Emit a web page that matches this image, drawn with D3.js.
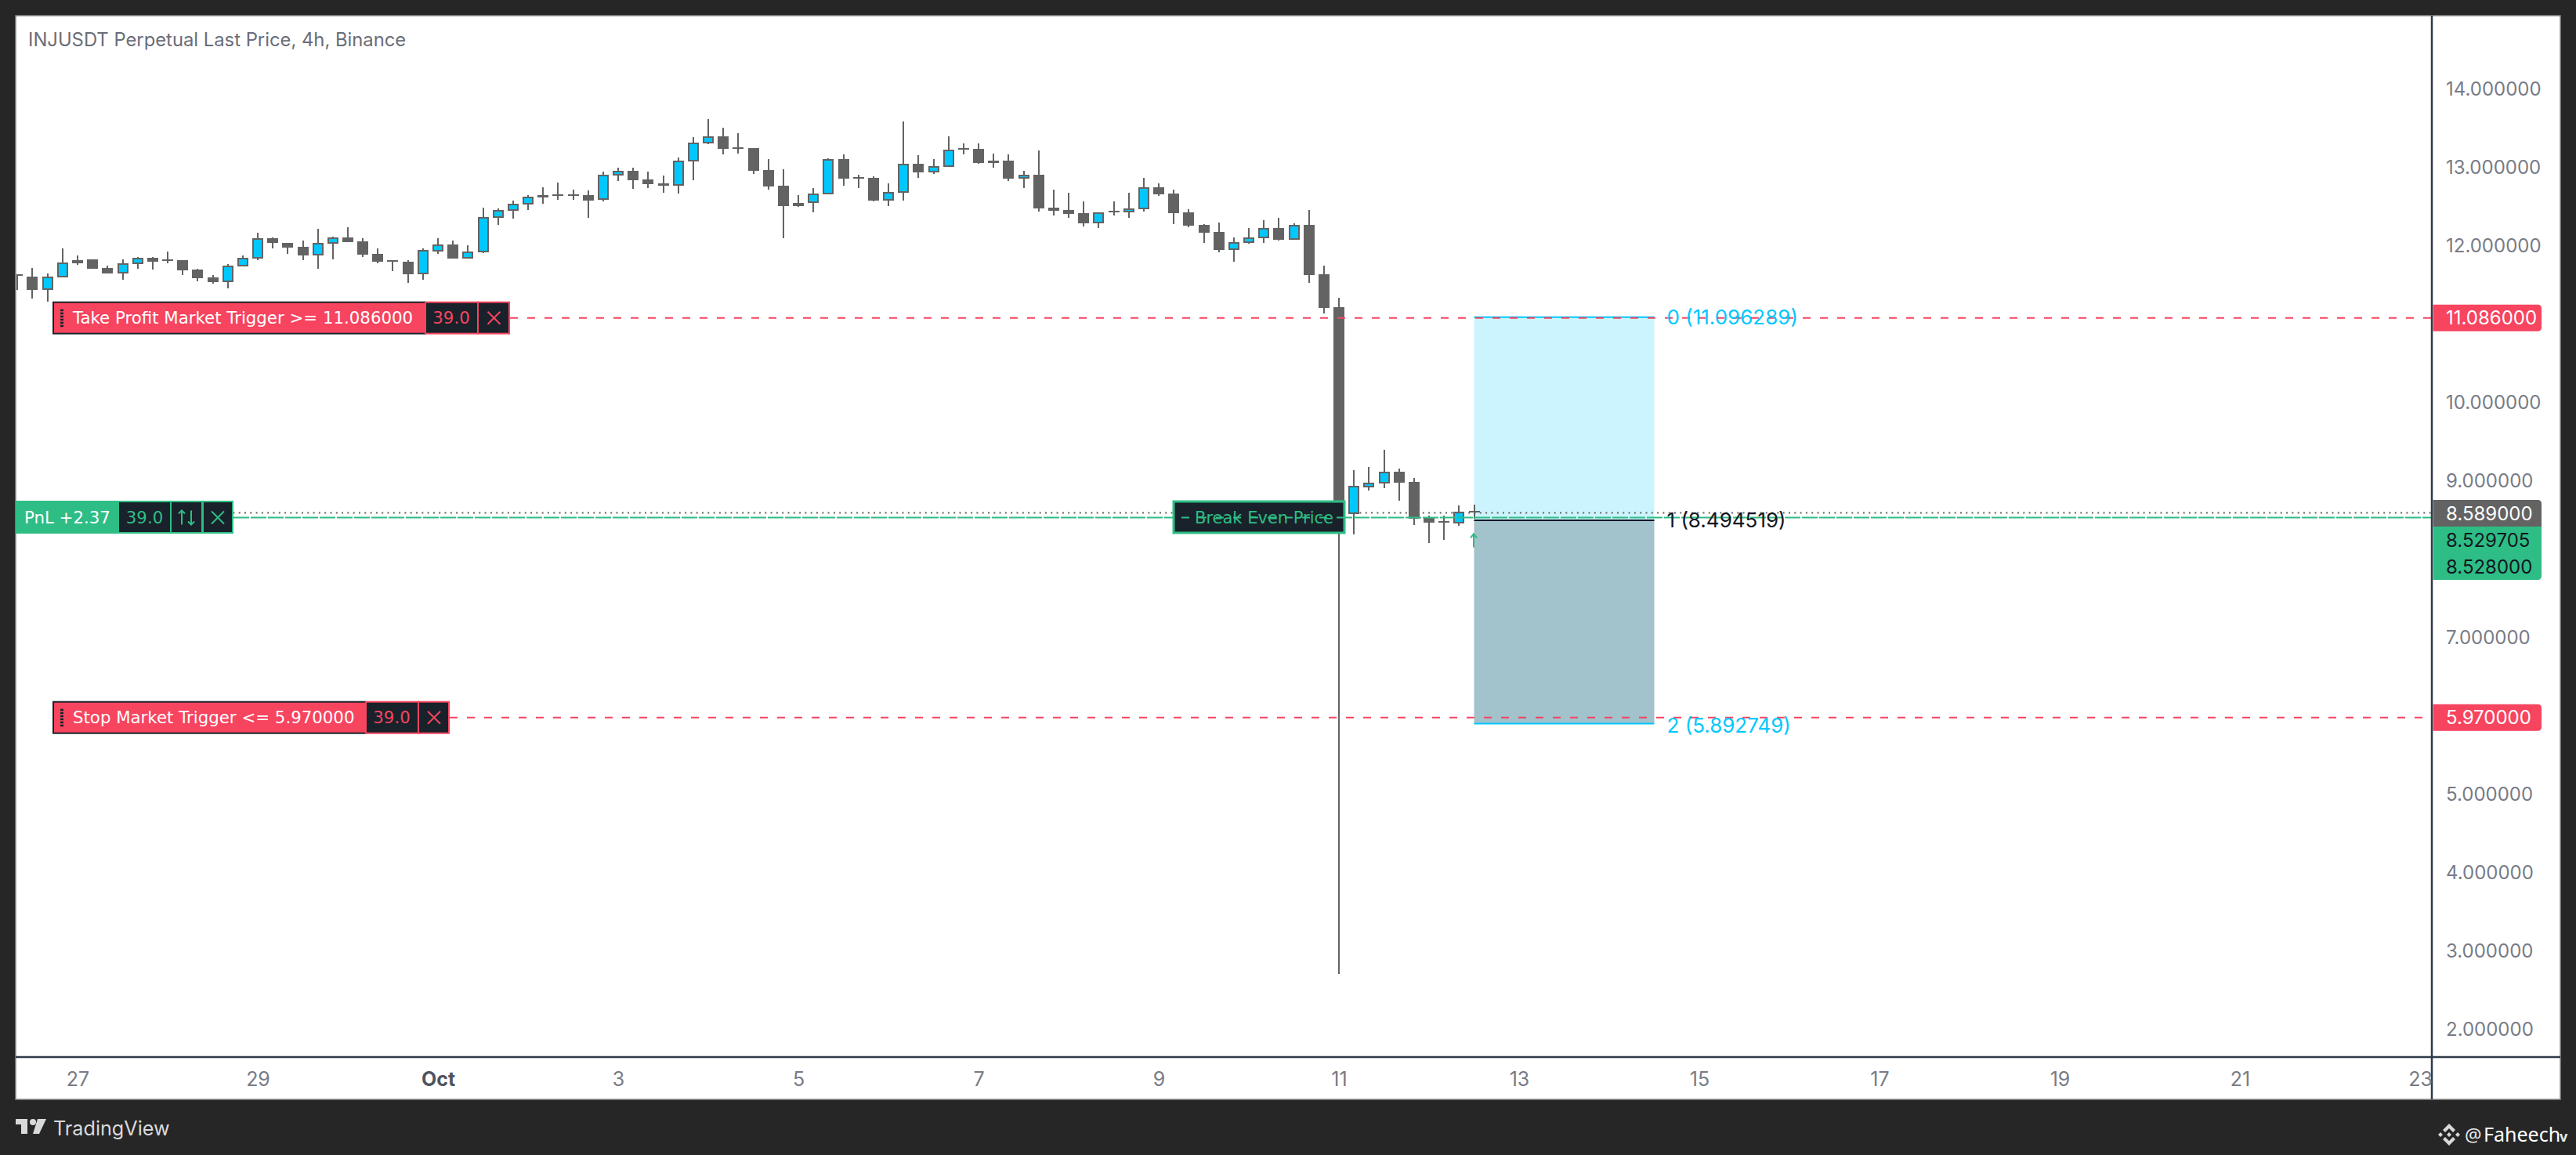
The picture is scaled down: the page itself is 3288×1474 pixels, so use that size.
<!DOCTYPE html>
<html>
<head>
<meta charset="utf-8">
<script src="https://cdn.jsdelivr.net/npm/d3@7"></script>
<style>
  html, body { margin: 0; padding: 0; background: #262626; }
  svg { display: block; }
</style>
</head>
<body>
<div id="chart"></div>
<script>
// 4h candles, first one opens Sep 26 08:00
const firstCandle = "2025-09-26T08:00:00Z";
const opens = [11.642,11.619,11.448,11.609,11.830,11.840,11.729,11.659,11.780,11.860,11.840,11.830,11.709,11.609,11.548,11.749,11.850,12.111,12.051,11.991,
  11.890,12.031,12.121,12.071,11.910,11.830,11.810,11.649,11.940,12.021,11.850,11.930,12.363,12.453,12.533,12.654,12.664,12.664,12.654,12.594,
  12.905,12.966,12.855,12.805,12.775,13.086,13.317,13.408,13.267,13.257,12.976,12.775,12.553,12.553,12.664,13.116,12.885,12.875,12.584,12.684,
  13.056,12.945,13.016,13.257,13.247,13.096,13.096,12.865,12.915,12.493,12.463,12.423,12.292,12.453,12.433,12.473,12.754,12.674,12.433,12.272,
  12.182,11.951,12.051,12.111,12.232,12.091,12.272,11.649,11.227,8.573,8.915,8.965,9.116,8.985,8.533,8.483,8.453,8.613];
const highs = [11.642,11.729,11.659,11.971,11.890,11.840,11.759,11.840,11.870,11.870,11.940,11.830,11.719,11.639,11.780,11.890,12.172,12.121,12.051,12.081,
  12.222,12.131,12.242,12.111,11.971,11.830,11.830,11.971,12.111,12.081,12.011,12.493,12.483,12.584,12.654,12.754,12.815,12.724,12.714,12.955,
  13.006,13.006,12.955,12.905,13.136,13.398,13.629,13.518,13.448,13.257,13.116,12.986,12.654,12.744,13.126,13.177,12.915,12.895,12.805,13.599,
  13.167,13.116,13.408,13.317,13.317,13.187,13.177,12.966,13.227,12.724,12.684,12.574,12.433,12.574,12.684,12.875,12.805,12.724,12.473,12.282,
  12.302,12.121,12.232,12.332,12.363,12.292,12.463,11.759,11.347,9.136,9.176,9.397,9.156,9.035,8.553,8.553,8.684,8.694];
const lows = [11.448,11.337,11.297,11.609,11.770,11.719,11.659,11.579,11.719,11.709,11.790,11.639,11.558,11.528,11.468,11.749,11.830,11.971,11.910,11.830,
  11.719,11.840,12.061,11.870,11.790,11.689,11.538,11.579,11.910,11.850,11.850,11.920,12.272,12.352,12.463,12.543,12.594,12.594,12.363,12.574,
  12.835,12.734,12.744,12.684,12.674,12.845,13.307,13.177,13.187,12.925,12.724,12.111,12.503,12.433,12.664,12.775,12.744,12.574,12.513,12.584,
  12.875,12.925,13.016,13.177,13.056,13.006,12.835,12.744,12.443,12.393,12.363,12.252,12.232,12.393,12.363,12.443,12.644,12.282,12.242,12.051,
  11.930,11.810,12.031,12.051,12.081,12.091,11.538,11.146,2.69,8.312,8.875,8.905,8.744,8.432,8.201,8.241,8.422,8.513];
const closes = [11.622,11.448,11.619,11.800,11.790,11.719,11.659,11.790,11.860,11.810,11.820,11.699,11.599,11.548,11.759,11.860,12.111,12.041,11.981,11.890,
  12.041,12.121,12.061,11.900,11.810,11.810,11.649,11.951,12.021,11.850,11.940,12.373,12.463,12.543,12.634,12.624,12.644,12.644,12.584,12.915,
  12.966,12.845,12.795,12.775,13.096,13.327,13.408,13.247,13.247,12.966,12.765,12.513,12.513,12.674,13.116,12.865,12.865,12.584,12.694,13.056,
  12.945,13.026,13.237,13.237,13.066,13.066,12.865,12.915,12.483,12.453,12.413,12.292,12.433,12.433,12.483,12.754,12.664,12.423,12.262,12.172,
  11.951,12.061,12.121,12.232,12.091,12.272,11.639,11.217,8.57,8.935,8.975,9.116,8.975,8.513,8.463,8.463,8.603,8.593];

const priceTicks = [14,13,12,10,9,7,5,4,3,2];
const dateTicks = ["2025-09-27","2025-09-29","2025-10-01","2025-10-03","2025-10-05","2025-10-07","2025-10-09","2025-10-11","2025-10-13","2025-10-15","2025-10-17","2025-10-19","2025-10-21","2025-10-23"];
const dateLabels = ["27","29","Oct","3","5","7","9","11","13","15","17","19","21","23"];

const takeProfit = 11.086;
const stopLoss = 5.97;
const lastPrice = 8.589;
const breakEven = 8.529705;
const markPrice = 8.528;
const fibLevels = [11.096289, 8.494519, 5.892749];
const fibStart = "2025-10-12T12:00:00Z";
const fibEnd = "2025-10-14T12:00:00Z";

const width = 3288, height = 1474;
const frame = { left: 20, top: 20, right: 3268, bottom: 1403 };
const paneRight = 3104, paneBottom = 1349;

const GREY = "#636363", CYAN = "#00c8ff", RED = "#f7445f", GREEN = "#2ebd85", DARK = "#19222a", AXIS = "#2f3a4a", LABEL = "#787b86";
const UI_FONT = "Inter, sans-serif", ORDER_FONT = "'DejaVu Sans', sans-serif";

const x = d3.scaleUtc().domain([new Date("2025-09-27T00:00:00Z"), new Date("2025-10-23T00:00:00Z")]).range([99, 3089]);
const y = d3.scaleLinear().domain([takeProfit, stopLoss]).range([405.7, 915.7]);
// tick labels sit on a slightly different grid than the order lines
const yTicks = d3.scaleLinear().domain([14, 2]).range([113, 1313]);

const candles = opens.map((o, i) => ({
  t: d3.utcHour.offset(new Date(firstCandle), i * 4),
  o, h: highs[i], l: lows[i], c: closes[i], up: closes[i] >= o
}));

const svg = d3.select("#chart").append("svg").attr("width", width).attr("height", height).attr("viewBox", `0 0 ${width} ${height}`);

svg.append("rect").attr("width", width).attr("height", height).attr("fill", "#262626");
svg.append("rect").attr("x", frame.left).attr("y", frame.top)
  .attr("width", frame.right - frame.left).attr("height", frame.bottom - frame.top)
  .attr("fill", "#fff").attr("stroke", "#8a8a8a").attr("stroke-width", 1.5);

svg.append("defs").append("clipPath").attr("id", "pane").append("rect")
  .attr("x", frame.left + 1).attr("y", frame.top).attr("width", paneRight - frame.left - 1).attr("height", paneBottom - frame.top);

const pane = svg.append("g").attr("clip-path", "url(#pane)");

// fib / position box
const fibX0 = x(new Date(fibStart)), fibX1 = x(new Date(fibEnd));
pane.append("rect").attr("x", fibX0).attr("width", fibX1 - fibX0).attr("y", y(fibLevels[0])).attr("height", y(fibLevels[1]) - y(fibLevels[0])).attr("fill", "#ccf4ff");
pane.append("rect").attr("x", fibX0).attr("width", fibX1 - fibX0).attr("y", y(fibLevels[1])).attr("height", y(fibLevels[2]) - y(fibLevels[1])).attr("fill", "#a2c2cc");
pane.selectAll("line.fib").data(fibLevels).join("line").attr("class", "fib")
  .attr("x1", fibX0).attr("x2", fibX1).attr("y1", d => y(d)).attr("y2", d => y(d))
  .attr("stroke", (d, i) => i === 1 ? "#131722" : CYAN).attr("stroke-width", 2);

// candles
pane.selectAll("line.wick").data(candles).join("line").attr("class", "wick")
  .attr("x1", d => Math.round(x(d.t))).attr("x2", d => Math.round(x(d.t)))
  .attr("y1", d => Math.round(y(d.h))).attr("y2", d => Math.round(y(d.l)))
  .attr("stroke", GREY).attr("stroke-width", 2).attr("shape-rendering", "crispEdges");
pane.selectAll("rect.body").data(candles).join("rect").attr("class", "body")
  .attr("x", d => Math.round(x(d.t)) - 7).attr("width", 14)
  .attr("y", d => Math.round(y(Math.max(d.o, d.c))))
  .attr("height", d => Math.max(2, Math.round(y(Math.min(d.o, d.c))) - Math.round(y(Math.max(d.o, d.c)))))
  .attr("fill", GREY).attr("shape-rendering", "crispEdges");
pane.selectAll("rect.inner").data(candles.filter(d => d.up)).join("rect").attr("class", "inner")
  .attr("x", d => Math.round(x(d.t)) - 5).attr("width", 10)
  .attr("y", d => Math.round(y(d.c)) + 2)
  .attr("height", d => Math.max(1, Math.round(y(d.o)) - Math.round(y(d.c)) - 4))
  .attr("fill", CYAN).attr("shape-rendering", "crispEdges");

// price lines
pane.append("line").attr("x1", frame.left).attr("x2", paneRight).attr("y1", y(lastPrice)).attr("y2", y(lastPrice))
  .attr("stroke", GREY).attr("stroke-width", 2).attr("stroke-dasharray", "2 5.3");
pane.append("line").attr("x1", 298).attr("x2", paneRight).attr("y1", y(breakEven)).attr("y2", y(breakEven))
  .attr("stroke", GREEN).attr("stroke-width", 2).attr("stroke-dasharray", "20 2");
pane.selectAll("line.order").data([takeProfit, stopLoss]).join("line").attr("class", "order")
  .attr("x1", (d, i) => i === 0 ? 651 : 574).attr("x2", paneRight).attr("y1", d => y(d)).attr("y2", d => y(d))
  .attr("stroke", RED).attr("stroke-width", 2).attr("stroke-dasharray", "10 12");

// fib labels
svg.selectAll("text.fibLabel").data(fibLevels).join("text").attr("class", "fibLabel")
  .attr("x", fibX1 + 16).attr("y", (d, i) => y(d) + (i === 2 ? 2 : 0)).attr("dy", "0.36em")
  .attr("font-family", UI_FONT).attr("font-size", 26)
  .attr("fill", (d, i) => i === 1 ? "#131722" : CYAN)
  .text((d, i) => `${i} (${d.toFixed(6)})`);

// small entry arrow
const arrowX = Math.round(x(candles[97].t)) - 1;
svg.append("path")
  .attr("d", `M${arrowX},${y(8.15)}V${y(8.32)}M${arrowX - 4},${y(8.27)}L${arrowX},${y(8.32)}L${arrowX + 4},${y(8.27)}`)
  .attr("fill", "none").attr("stroke", GREEN).attr("stroke-width", 2);

// frame lines of the panes
svg.append("line").attr("x1", frame.left).attr("x2", frame.right).attr("y1", paneBottom).attr("y2", paneBottom).attr("stroke", AXIS).attr("stroke-width", 2.5);
svg.append("line").attr("x1", paneRight).attr("x2", paneRight).attr("y1", frame.top).attr("y2", frame.bottom).attr("stroke", AXIS).attr("stroke-width", 2.5);

// title
svg.append("text").attr("x", 36).attr("y", 59).attr("font-family", UI_FONT).attr("font-size", 23.8).attr("fill", "#6a6d78")
  .text("INJUSDT Perpetual Last Price, 4h, Binance");

// axes
const yAxis = d3.axisRight(yTicks).tickValues(priceTicks).tickSize(0).tickPadding(18).tickFormat(d3.format(".6f"));
const yG = svg.append("g").attr("transform", `translate(${paneRight},0)`).call(yAxis);
yG.select(".domain").remove();
yG.selectAll("text").attr("font-family", UI_FONT).attr("font-size", 24).attr("fill", LABEL).attr("dy", "0.36em");

const xAxis = d3.axisBottom(x).tickValues(dateTicks.map(d => new Date(d + "T00:00:00Z"))).tickSize(0).tickPadding(0)
  .tickFormat((d, i) => dateLabels[i]);
const xG = svg.append("g").attr("transform", `translate(0,${paneBottom})`).call(xAxis);
xG.select(".domain").remove();
xG.selectAll("text").attr("font-family", UI_FONT).attr("font-size", 25).attr("fill", LABEL).attr("y", 37).attr("dy", 0)
  .attr("font-weight", (d, i) => dateLabels[i] === "Oct" ? 700 : 400)
  .attr("fill", (d, i) => dateLabels[i] === "Oct" ? "#50535e" : LABEL);

// price tags on the right
function priceTag(top, h, fill, textFill, value, round) {
  const x0 = paneRight + 1.5, x1 = 3244, r = 5;
  const roundTop = round === "top" || round === "both", roundBot = round === "bottom" || round === "both";
  const d = `M${x0},${top}H${x1 - (roundTop ? r : 0)}` + (roundTop ? `Q${x1},${top} ${x1},${top + r}` : "") +
    `V${top + h - (roundBot ? r : 0)}` + (roundBot ? `Q${x1},${top + h} ${x1 - r},${top + h}` : "") + `H${x0}Z`;
  svg.append("path").attr("d", d).attr("fill", fill);
  svg.append("text").attr("x", 3122).attr("y", top + h / 2).attr("dy", "0.36em")
    .attr("font-family", UI_FONT).attr("font-size", 24).attr("fill", textFill).text(d3.format(".6f")(value));
}
priceTag(y(takeProfit) - 17, 34, RED, "#fff", takeProfit, "both");
priceTag(y(stopLoss) - 17, 34, RED, "#fff", stopLoss, "both");
priceTag(638, 34, GREY, "#fff", lastPrice, "top");
priceTag(672, 34, GREEN, "#131722", breakEven, "none");
priceTag(706, 34, GREEN, "#131722", markPrice, "bottom");

// order labels
function cross(g, cx, cy, color) {
  g.append("path").attr("d", `M${cx - 8},${cy - 8}L${cx + 8},${cy + 8}M${cx + 8},${cy - 8}L${cx - 8},${cy + 8}`)
    .attr("stroke", color).attr("stroke-width", 2).attr("fill", "none");
}
function orderLabel(price, x0, x1, x2, x3, text) {
  const cy = y(price), top = cy - 21, h = 42;
  const g = svg.append("g");
  g.append("rect").attr("x", x0 + 1).attr("y", top + 1).attr("width", x1 - x0).attr("height", h - 2)
    .attr("fill", RED).attr("stroke", DARK).attr("stroke-width", 2);
  g.append("rect").attr("x", x1 + 1).attr("y", top + 1).attr("width", x3 - x1 - 2).attr("height", h - 2)
    .attr("fill", DARK).attr("stroke", RED).attr("stroke-width", 2);
  g.append("line").attr("x1", x2).attr("x2", x2).attr("y1", top).attr("y2", top + h).attr("stroke", RED).attr("stroke-width", 2);
  d3.range(6).forEach(k => g.append("rect").attr("x", x0 + 10).attr("y", top + 10 + k * 4).attr("width", 4).attr("height", 2.5).attr("fill", DARK));
  g.append("text").attr("x", x0 + 26).attr("y", cy).attr("dy", "0.36em").attr("font-family", ORDER_FONT).attr("font-size", 21.3).attr("fill", "#fff").text(text);
  g.append("text").attr("x", (x1 + x2) / 2).attr("y", cy).attr("dy", "0.36em").attr("text-anchor", "middle").attr("font-family", ORDER_FONT).attr("font-size", 21.3).attr("fill", RED).text("39.0");
  cross(g, (x2 + x3) / 2, cy, RED);
}
orderLabel(takeProfit, 67, 542, 610, 651, `Take Profit Market Trigger >= ${takeProfit.toFixed(6)}`);
orderLabel(stopLoss, 67, 466, 534, 574, `Stop Market Trigger <= ${stopLoss.toFixed(6)}`);

// PnL label
const pnl = svg.append("g");
const pnlTop = 639, pnlH = 42, pnlCy = y(breakEven);
pnl.append("rect").attr("x", frame.left).attr("y", pnlTop).attr("width", 278).attr("height", pnlH).attr("fill", GREEN);
[[152, 65], [219, 38], [260, 36]].forEach(c => pnl.append("rect").attr("x", c[0]).attr("y", pnlTop + 2).attr("width", c[1]).attr("height", pnlH - 4).attr("fill", DARK));
pnl.append("text").attr("x", 31).attr("y", pnlCy).attr("dy", "0.36em").attr("font-family", ORDER_FONT).attr("font-size", 21.3).attr("fill", "#fff").text("PnL +2.37");
pnl.append("text").attr("x", 184.5).attr("y", pnlCy).attr("dy", "0.36em").attr("text-anchor", "middle").attr("font-family", ORDER_FONT).attr("font-size", 21.3).attr("fill", GREEN).text("39.0");
pnl.append("path").attr("d", `M232,${pnlCy + 9}V${pnlCy - 9}M228,${pnlCy - 5}L232,${pnlCy - 9}L236,${pnlCy - 5}M244,${pnlCy - 9}V${pnlCy + 9}M240,${pnlCy + 5}L244,${pnlCy + 9}L248,${pnlCy + 5}`)
  .attr("stroke", GREEN).attr("stroke-width", 2).attr("fill", "none");
cross(pnl, 278, pnlCy, GREEN);

// break even label, the dashed line runs over its text
const be = svg.append("g");
be.append("rect").attr("x", 1498).attr("y", 640).attr("width", 218).attr("height", 40).attr("fill", DARK).attr("stroke", GREEN).attr("stroke-width", 3);
be.append("text").attr("x", 1525).attr("y", pnlCy).attr("dy", "0.36em").attr("font-family", ORDER_FONT).attr("font-size", 21).attr("fill", GREEN).text("Break Even Price");
be.append("line").attr("x1", 1508).attr("x2", 1716).attr("y1", y(breakEven)).attr("y2", y(breakEven))
  .attr("stroke", GREEN).attr("stroke-width", 2).attr("stroke-dasharray", "10 12");

// footer
const logo = svg.append("g").attr("fill", "#d9d9d9");
logo.append("path").attr("d", "M20,1428H35V1447H27V1435H20Z");
logo.append("circle").attr("cx", 42).attr("cy", 1432).attr("r", 4);
logo.append("path").attr("d", "M48,1428H59L50,1447H42Z");
svg.append("text").attr("x", 68).attr("y", 1449).attr("font-family", UI_FONT).attr("font-size", 25.2).attr("fill", "#d9d9d9").text("TradingView");

svg.append("path").attr("fill", "#d9d9d9")
  .attr("d", "M3126,1434L3134,1442L3131,1445L3126,1440L3121,1445L3118,1442Z M3126,1462L3118,1454L3121,1451L3126,1456L3131,1451L3134,1454Z M3126,1445L3129,1448L3126,1451L3123,1448Z M3115,1445L3118,1448L3115,1451L3112,1448Z M3137,1445L3140,1448L3137,1451L3134,1448Z");
svg.append("text").attr("x", 3146).attr("y", 1457).attr("font-family", "'Noto Sans', sans-serif").attr("font-size", 24).attr("fill", "#e8e8e8").text("@");
svg.append("text").attr("x", 3170).attr("y", 1457).attr("font-family", "'Noto Sans', sans-serif").attr("font-size", 25).attr("fill", "#fff").text("Faheech");
svg.append("text").attr("x", 3267).attr("y", 1457).attr("font-family", "'Noto Sans', sans-serif").attr("font-size", 18).attr("font-weight", 700).attr("fill", "#e8e8e8").text("v");
</script>
</body>
</html>
